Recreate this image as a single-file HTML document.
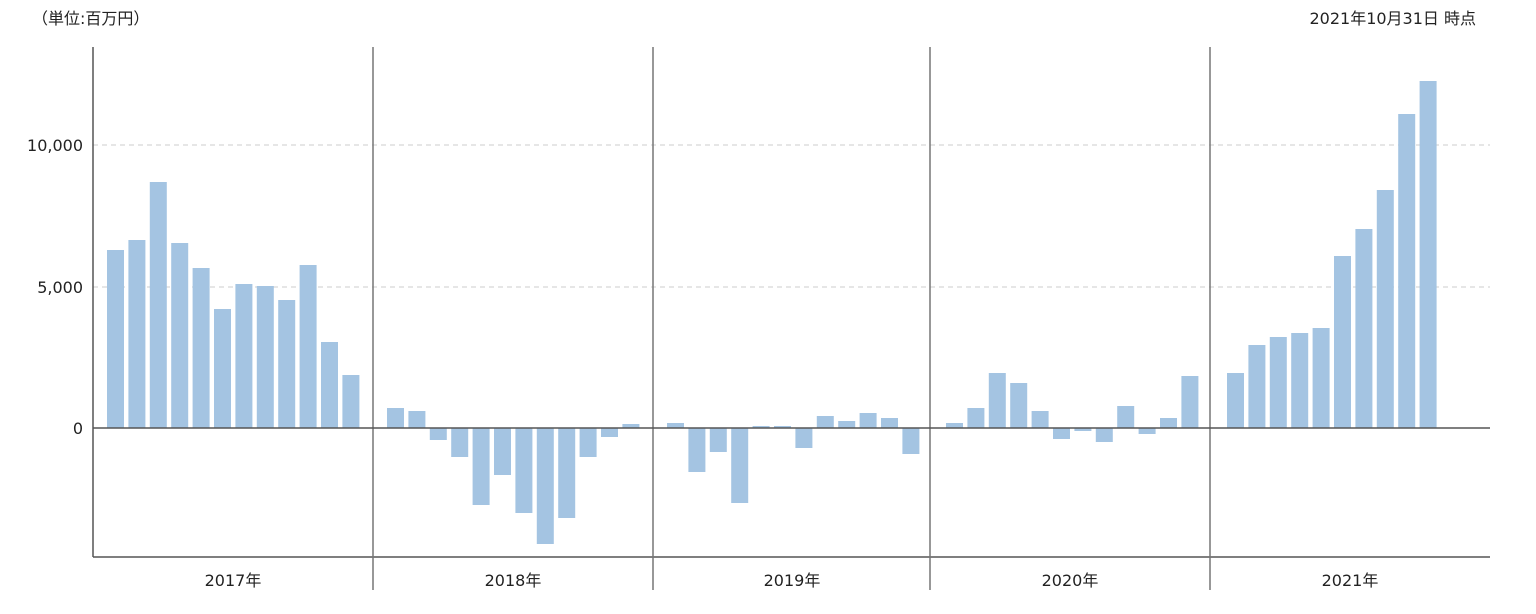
<!DOCTYPE html>
<html><head><meta charset="utf-8"><style>
html,body{margin:0;padding:0;background:#fff;}
svg text{font-family:"DejaVu Sans","Noto Sans CJK JP",sans-serif;fill:#222;}
</style></head><body>
<svg width="1536" height="609" viewBox="0 0 1536 609" xmlns="http://www.w3.org/2000/svg">
<text x="32" y="24" font-size="16">（単位:百万円）</text>
<text x="1476" y="24" font-size="16" text-anchor="end">2021年10月31日 時点</text>
<line x1="93" y1="145" x2="1490" y2="145" stroke="#ccc" stroke-dasharray="5,4"/>
<line x1="93" y1="287" x2="1490" y2="287" stroke="#ccc" stroke-dasharray="5,4"/>
<g font-size="16" text-anchor="end">
<text x="83" y="151">10,000</text>
<text x="83" y="293">5,000</text>
<text x="83" y="434">0</text>
</g>
<line x1="93" y1="47" x2="93" y2="557" stroke="#555" stroke-width="1.5"/>
<line x1="93" y1="557" x2="1490" y2="557" stroke="#555" stroke-width="1.5"/>
<g stroke="#777" stroke-width="1.5">
<line x1="373" y1="47" x2="373" y2="590"/>
<line x1="653" y1="47" x2="653" y2="590"/>
<line x1="930" y1="47" x2="930" y2="590"/>
<line x1="1210" y1="47" x2="1210" y2="590"/>
</g>
<g font-size="16" text-anchor="middle">
<text x="233" y="586">2017年</text>
<text x="513" y="586">2018年</text>
<text x="792" y="586">2019年</text>
<text x="1070" y="586">2020年</text>
<text x="1350" y="586">2021年</text>
</g>
<g fill="#a4c4e2">
<rect x="107" y="250" width="17" height="178"/>
<rect x="128.4" y="240" width="17" height="188"/>
<rect x="149.8" y="182" width="17" height="246"/>
<rect x="171.2" y="243" width="17" height="185"/>
<rect x="192.6" y="268" width="17" height="160"/>
<rect x="214" y="309" width="17" height="119"/>
<rect x="235.4" y="284" width="17" height="144"/>
<rect x="256.8" y="286" width="17" height="142"/>
<rect x="278.2" y="300" width="17" height="128"/>
<rect x="299.6" y="265" width="17" height="163"/>
<rect x="321" y="342" width="17" height="86"/>
<rect x="342.4" y="375" width="17" height="53"/>
<rect x="387" y="408" width="17" height="20"/>
<rect x="408.4" y="411" width="17" height="17"/>
<rect x="429.8" y="428" width="17" height="12"/>
<rect x="451.2" y="428" width="17" height="29"/>
<rect x="472.6" y="428" width="17" height="77"/>
<rect x="494" y="428" width="17" height="47"/>
<rect x="515.4" y="428" width="17" height="85"/>
<rect x="536.8" y="428" width="17" height="116"/>
<rect x="558.2" y="428" width="17" height="90"/>
<rect x="579.6" y="428" width="17" height="29"/>
<rect x="601" y="428" width="17" height="9"/>
<rect x="622.4" y="424" width="17" height="4"/>
<rect x="667" y="423" width="17" height="5"/>
<rect x="688.4" y="428" width="17" height="44"/>
<rect x="709.8" y="428" width="17" height="24"/>
<rect x="731.2" y="428" width="17" height="75"/>
<rect x="752.6" y="426" width="17" height="2"/>
<rect x="774" y="426" width="17" height="2"/>
<rect x="795.4" y="428" width="17" height="20"/>
<rect x="816.8" y="416" width="17" height="12"/>
<rect x="838.2" y="421" width="17" height="7"/>
<rect x="859.6" y="413" width="17" height="15"/>
<rect x="881" y="418" width="17" height="10"/>
<rect x="902.4" y="428" width="17" height="26"/>
<rect x="946" y="423" width="17" height="5"/>
<rect x="967.4" y="408" width="17" height="20"/>
<rect x="988.8" y="373" width="17" height="55"/>
<rect x="1010.2" y="383" width="17" height="45"/>
<rect x="1031.6" y="411" width="17" height="17"/>
<rect x="1053" y="428" width="17" height="11"/>
<rect x="1074.4" y="428" width="17" height="3"/>
<rect x="1095.8" y="428" width="17" height="14"/>
<rect x="1117.2" y="406" width="17" height="22"/>
<rect x="1138.6" y="428" width="17" height="6"/>
<rect x="1160" y="418" width="17" height="10"/>
<rect x="1181.4" y="376" width="17" height="52"/>
<rect x="1227" y="373" width="17" height="55"/>
<rect x="1248.4" y="345" width="17" height="83"/>
<rect x="1269.8" y="337" width="17" height="91"/>
<rect x="1291.2" y="333" width="17" height="95"/>
<rect x="1312.6" y="328" width="17" height="100"/>
<rect x="1334" y="256" width="17" height="172"/>
<rect x="1355.4" y="229" width="17" height="199"/>
<rect x="1376.8" y="190" width="17" height="238"/>
<rect x="1398.2" y="114" width="17" height="314"/>
<rect x="1419.6" y="81" width="17" height="347"/>
</g>
<line x1="93" y1="428" x2="1490" y2="428" stroke="#555" stroke-width="1.5"/>
</svg>
</body></html>
